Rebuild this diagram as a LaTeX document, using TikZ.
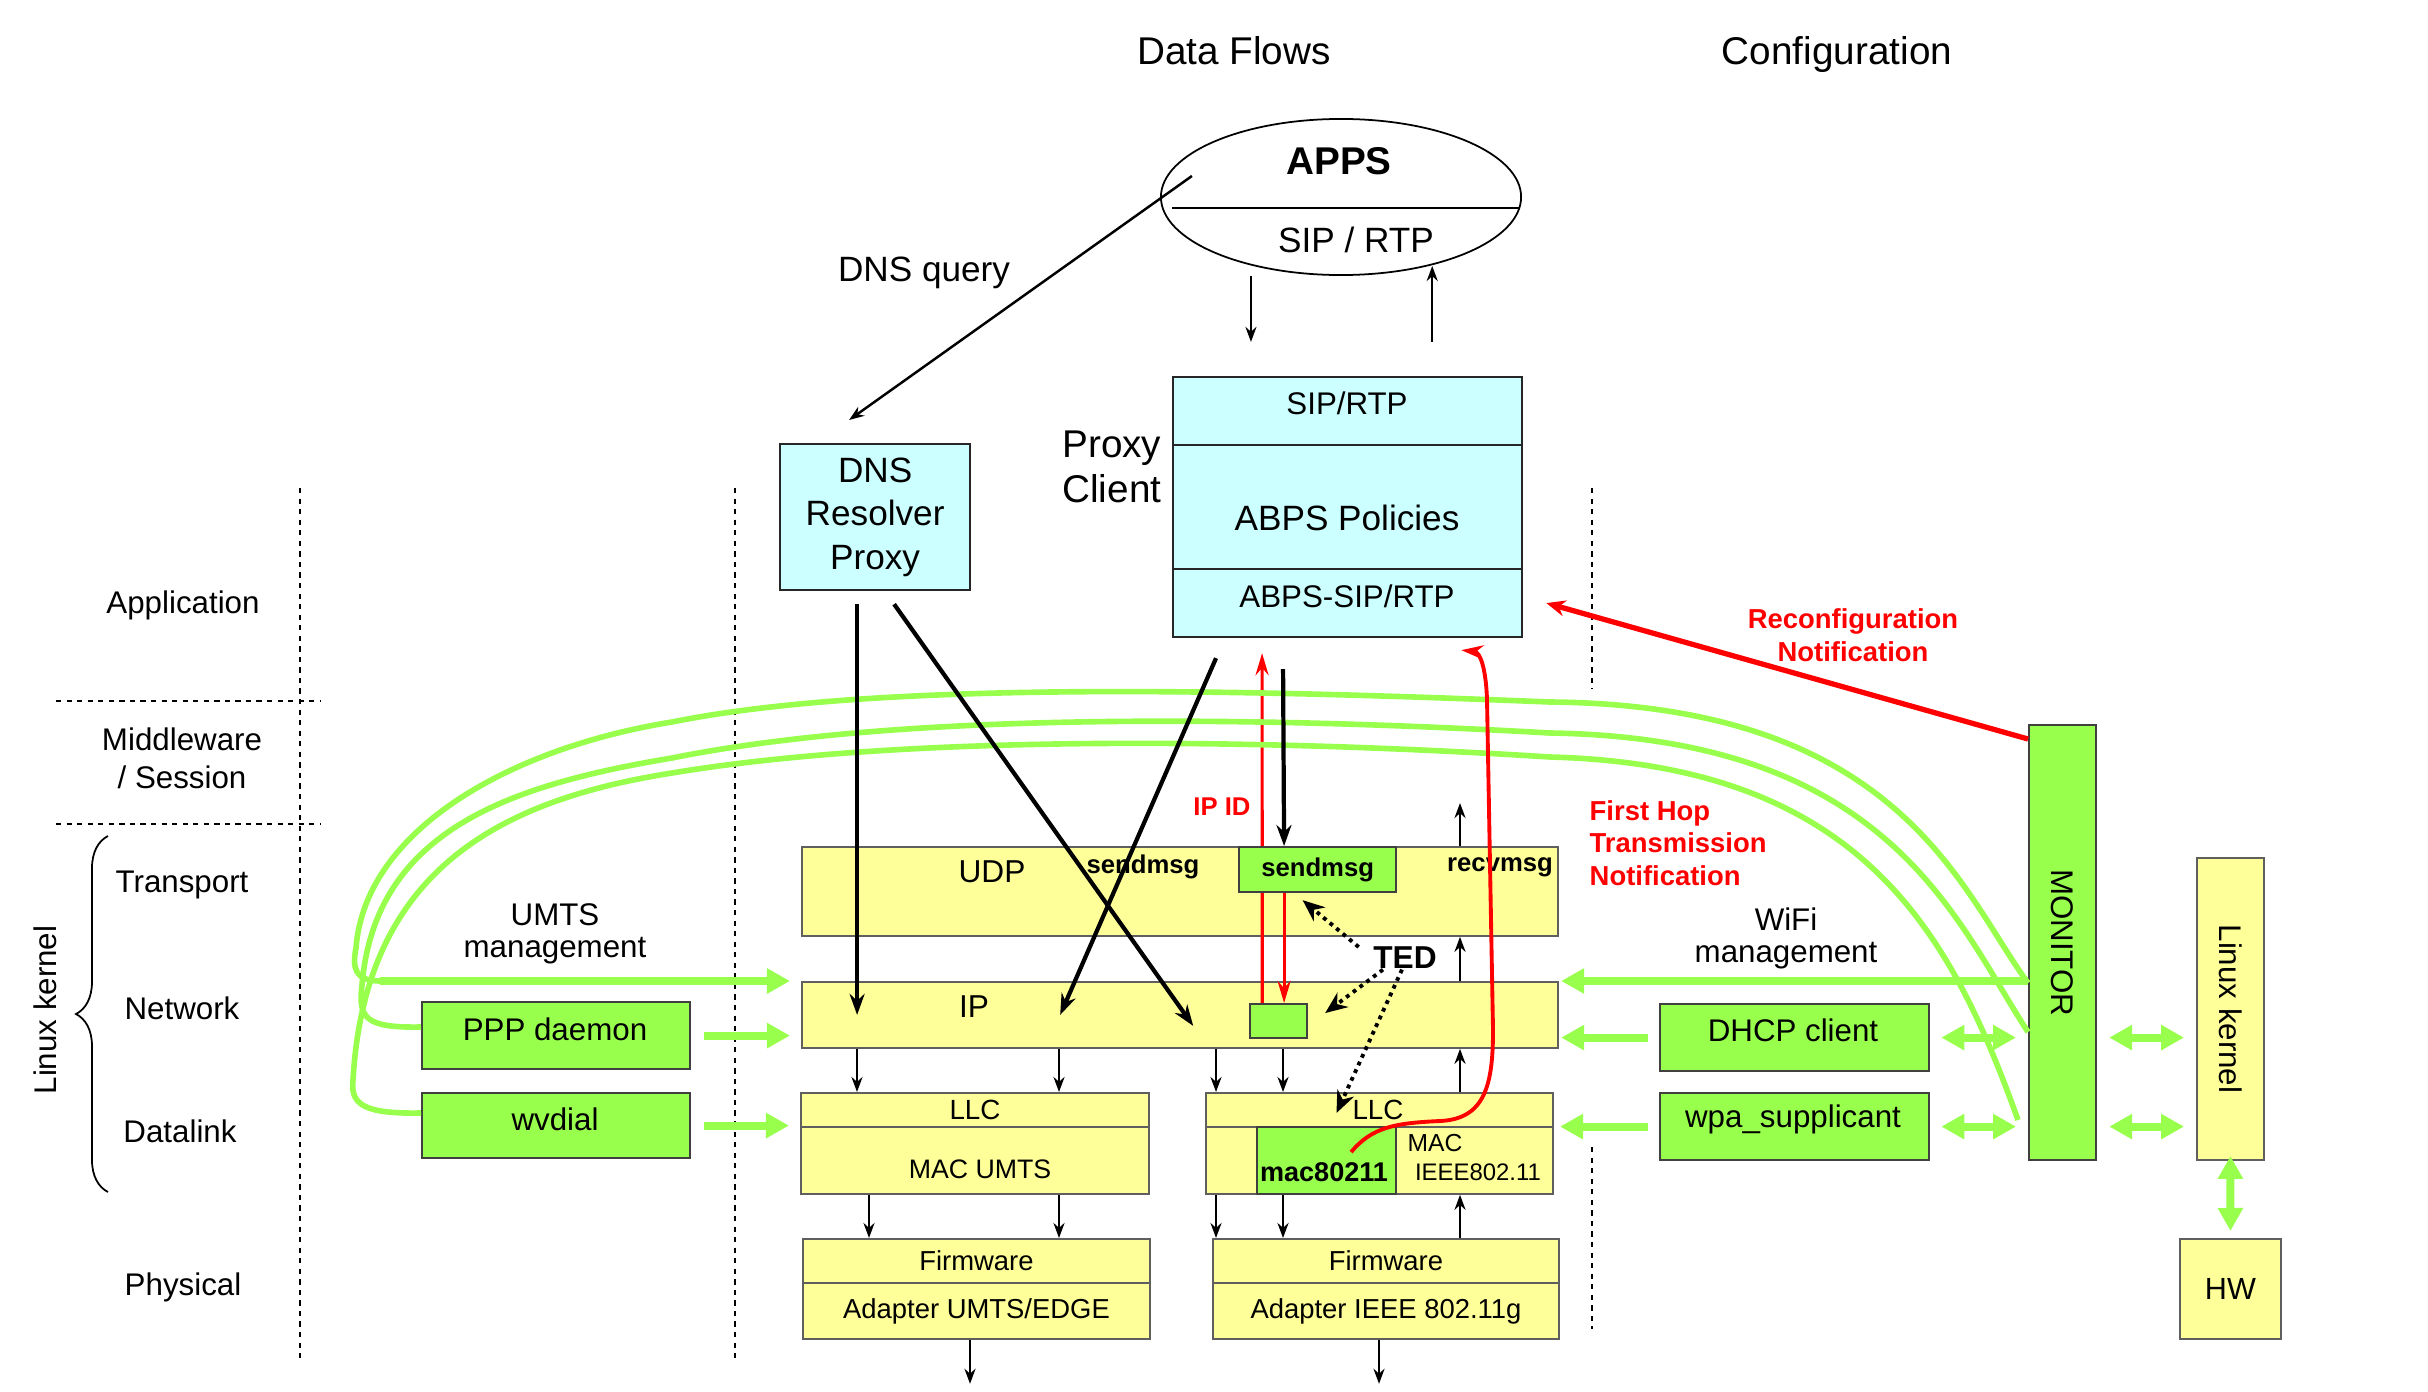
\documentclass[tikz,border=0pt]{standalone}
\usepackage{fontspec}
\setmainfont{Liberation Sans}
\usetikzlibrary{arrows.meta,shapes.geometric,decorations.pathreplacing}

\definecolor{yellowbg}{RGB}{255,255,153}
\definecolor{cyanbg}{RGB}{204,255,255}
\definecolor{greenbg}{RGB}{153,255,77}
\definecolor{boxline}{RGB}{95,95,95}
\newcommand{\fsz}[2]{\fontsize{#1}{#2}\selectfont}

\tikzset{
  ybox/.style={draw=boxline, fill=yellowbg, line width=0.5pt, inner sep=0pt, anchor=north west},
  cbox/.style={draw=black!85, fill=cyanbg, line width=0.6pt, inner sep=0pt, anchor=north west},
  gbox/.style={draw=black!75, fill=greenbg, line width=0.6pt, inner sep=0pt, anchor=north west},
  txt/.style={inner sep=0pt, font=\fsz{8.9}{10.7}},
  sm/.style={inner sep=0pt, font=\fsz{7.8}{9.4}},
  rtxt/.style={inner sep=0pt, text=red, font=\bfseries\fsz{7.8}{9.3}},
  sarr/.style={-{Stealth[length=1.5mm,width=1.1mm]}, line width=0.7pt},
  tarr/.style={-{Stealth[length=2.1mm,width=1.5mm]}, line width=1.2pt},
  garr/.style={draw=greenbg, line width=2.3pt, -{Triangle[length=2.3mm,width=2.4mm]}},
  gdbl/.style={draw=greenbg, line width=2.3pt, {Triangle[length=2.3mm,width=2.4mm]}-{Triangle[length=2.3mm,width=2.4mm]}},
  gline/.style={draw=greenbg, line width=1.6pt},
  rarr/.style={draw=red, line width=0.9pt, -{Stealth[length=2.2mm,width=1.3mm]}},
  rthick/.style={draw=red, line width=1.5pt, -{Stealth[length=1.9mm,width=1.6mm]}},
  ted/.style={line width=1.1pt, dash pattern=on 1.1pt off 1.3pt, -{Stealth[open,length=2.2mm,width=1.8mm]}},
  div/.style={dash pattern=on 1.5pt off 1.5pt, line width=0.5pt}
}

\begin{document}
\begin{tikzpicture}[x=0.01cm, y=-0.01cm]
  \useasboundingbox (0,0) rectangle (2428,1391);

  % titles and layers
  \node[font=\fsz{11}{13}, anchor=base] (tflow) at (1234,65) {Data Flows};
  \node[font=\fsz{11}{13}, anchor=base] (tconf) at (1837,65) {Configuration};
  \node[txt] (lapp) at (183,605) {Application};
  \node[txt, align=center, font=\fsz{8.9}{10.8}] (lmid) at (182,758) {Middleware\\/ Session};
  \node[txt] (ltra) at (182,885) {Transport};
  \node[txt] (lnet) at (182,1008) {Network};
  \node[txt] (ldat) at (180,1131) {Datalink};
  \node[txt] (lphy) at (183,1287) {Physical};
  \node[txt, rotate=90] (lkern) at (45,1010) {Linux kernel};
  \draw[decorate, decoration={brace, amplitude=0.32cm}, line width=0.5pt] (108,1192) -- (108,836);
  \draw[div] (300,488) -- (300,1360);
  \draw[div] (735,488) -- (735,1360);
  \draw[div] (1592,488) -- (1592,689);
  \draw[div] (1592,1147) -- (1592,1329);
  \draw[div] (56,701) -- (321,701);
  \draw[div] (56,824) -- (321,824);

  % applications
  \node[draw, ellipse, line width=0.5pt, minimum width=3.6cm, minimum height=1.56cm] (apps) at (1341,197) {};
  \draw[line width=0.5pt] (1172,208) -- (1520,208);
  \node[font=\bfseries\fsz{11}{13}] (appst) at (1339,161) {APPS};
  \node[font=\fsz{10}{12}] (appsip) at (1356,240) {SIP / RTP};
  \node[font=\fsz{10}{12}] (dnsq) at (924,273) {DNS query};

  \node[cbox, minimum width=1.90cm, minimum height=1.46cm, align=center, font=\fsz{10}{12.4}] (dns) at (779,443) {DNS\\Resolver\\Proxy};
  \node[cbox, minimum width=3.49cm, minimum height=0.68cm] (psip) at (1172,376) {};
  \node[cbox, minimum width=3.49cm, minimum height=1.24cm] (ppol) at (1172,444) {};
  \node[cbox, minimum width=3.49cm, minimum height=0.68cm] (pabps) at (1172,568) {};
  \node[inner sep=0pt, font=\fsz{8.9}{10}, anchor=base] (psipt) at (1347,414) {SIP/RTP};
  \node[inner sep=0pt, font=\fsz{10}{12}, anchor=base] (ppolt) at (1347,530) {ABPS Policies};
  \node[inner sep=0pt, font=\fsz{8.9}{10}, anchor=base] (pabpst) at (1347,607) {ABPS-SIP/RTP};
  \node[inner sep=0pt, font=\fsz{11}{13}, align=right, anchor=east] (proxyl) at (1162,467) {Proxy\\Client};

  \draw[sarr] ([xshift=-0.9cm]apps.south) -- ++(0,66);
  \draw[sarr] ([shift={(0.845cm,0.34cm)}]psip.north) -- ++(0,-76);
  \draw[sarr] ([shift={(-1.49cm,0.21cm)}]apps.center) -- ([shift={(-0.26cm,0.23cm)}]dns.north);

  % stack
  \node[ybox, minimum width=7.56cm, minimum height=0.89cm] (udp) at (801,846) {};
  \node[ybox, minimum width=7.56cm, minimum height=0.66cm] (ip) at (801,981) {};
  \node[ybox, minimum width=3.48cm, minimum height=0.34cm, font=\fsz{7.9}{9}] (llcu) at (800,1092) {LLC};
  \node[ybox, minimum width=3.48cm, minimum height=0.67cm] (macu) at (800,1126) {};
  \node[ybox, minimum width=3.47cm, minimum height=0.34cm] (llcw) at (1205,1092) {};
  \node[ybox, minimum width=3.47cm, minimum height=0.67cm] (macw) at (1205,1126) {};
  \node[ybox, minimum width=3.47cm, minimum height=0.44cm, font=\fsz{7.8}{9}] (fwu) at (802,1238) {Firmware};
  \node[ybox, minimum width=3.47cm, minimum height=0.56cm, font=\fsz{7.8}{9}] (adu) at (802,1282) {Adapter UMTS/EDGE};
  \node[ybox, minimum width=3.46cm, minimum height=0.44cm, font=\fsz{7.8}{9}] (fww) at (1212,1238) {Firmware};
  \node[ybox, minimum width=3.46cm, minimum height=0.56cm, font=\fsz{7.8}{9}] (adw) at (1212,1282) {Adapter IEEE 802.11g};
  \node[ybox, minimum width=0.67cm, minimum height=3.02cm] (lk) at (2196,857) {};
  \node[ybox, minimum width=1.01cm, minimum height=1.00cm, font=\fsz{8.7}{10}] (hw) at (2179,1238) {HW};

  % IP ID lines under the green boxes
  \draw[rarr] ([xshift=4.61cm]ip.west) -- ([shift={(0.9cm,-0.15cm)}]pabps.south west);

  \node[gbox, minimum width=1.57cm, minimum height=0.45cm, font=\bfseries\fsz{7.3}{9}] (sendb) at (1238,846) {sendmsg};
  \node[gbox, minimum width=0.57cm, minimum height=0.34cm] (ipidb) at (1249,1003) {};
  \node[gbox, minimum width=1.39cm, minimum height=0.67cm] (m80211) at (1256,1126) {};
  \node[gbox, minimum width=2.68cm, minimum height=0.67cm] (ppp) at (421,1001) {};
  \node[gbox, minimum width=2.68cm, minimum height=0.65cm] (wvd) at (421,1092) {};
  \node[gbox, minimum width=2.69cm, minimum height=0.67cm] (dhcp) at (1659,1003) {};
  \node[gbox, minimum width=2.69cm, minimum height=0.67cm] (wpa) at (1659,1092) {};
  \node[gbox, minimum width=0.67cm, minimum height=4.35cm] (mon) at (2028,724) {};
  \node[txt] (pppt) at (555,1029) {PPP daemon};
  \node[txt] (wvdt) at (555,1119) {wvdial};
  \node[txt] (dhcpt) at (1793,1030) {DHCP client};
  \node[txt] (wpat) at (1793,1119) {wpa\_supplicant};

  % texts in the stack
  \node[txt, font=\fsz{9}{10}] (udpt) at (992,872) {UDP};
  \node[sm, font=\bfseries\fsz{7.3}{9}] (sendl) at (1143,867) {sendmsg};
  \node[sm, font=\bfseries\fsz{7.3}{9}] (recvl) at (1500,867) {recvmsg};
  \node[txt, font=\fsz{9}{10}] (ipt) at (974,1007) {IP};
  \node[sm, font=\fsz{7.6}{9}] (macut) at (980,1169) {MAC UMTS};
  \node[sm, font=\fsz{7.9}{9}] (llcwt) at (1378,1110) {LLC};
  \node[sm, font=\fsz{7}{8}] (macwt) at (1435,1143) {MAC};
  \node[sm, font=\fsz{6.8}{8}] (ieeet) at (1478,1172) {IEEE802.11};
  \node[sm, font=\bfseries\fsz{7.7}{9}] (m80211t) at (1324,1172) {mac80211};
  \node[txt, rotate=-90] (mont) at (mon.center) {MONITOR};
  \node[txt, rotate=-90] (lkt) at (lk.center) {Linux kernel};
  \node[font=\bfseries\fsz{9}{10}, inner sep=0pt] (tedl) at (1405,958) {TED};
  \node[rtxt, font=\bfseries\fsz{7.3}{9}] (ipidl) at (1222,807) {IP ID};
  \node[rtxt, align=center] (reconf) at (1853,635) {Reconfiguration\\Notification};
  \node[rtxt, align=left, anchor=west] (fhop) at (1589,843) {First Hop\\Transmission\\Notification};
  \node[txt, align=center, font=\fsz{8.9}{9.1}] (umtsl) at (555,934) {UMTS\\management};
  \node[txt, align=center, font=\fsz{8.9}{9.1}] (wifil) at (1786,938) {WiFi\\management};

  % management curves
  \coordinate (umts) at (380,981);
  \draw[gline] (umts) .. controls (355,981) and (352,968) .. (356,948)
    .. controls (365,830) and (510,748) .. (672,722)
    .. controls (880,680) and (1250,690) .. (1550,702)
    .. controls (1900,705) and (1960,890) .. (mon.west |- 0,983);
  \draw[gline] (ppp.west |- 0,1027) .. controls (365,1028) and (358,1018) .. (362,985)
    .. controls (375,830) and (510,785) .. (672,758)
    .. controls (900,712) and (1250,716) .. (1550,733)
    .. controls (1890,738) and (1955,920) .. (mon.west |- 0,1032);
  \draw[gline] (wvd.west |- 0,1113) .. controls (365,1114) and (350,1105) .. (353,1080)
    .. controls (365,870) and (500,800) .. (672,773)
    .. controls (900,735) and (1250,738) .. (1550,757)
    .. controls (1860,765) and (1950,930) .. ([xshift=-0.1cm]mon.west |- 0,1120);

  % management arrows
  \draw[garr] (umts) -- ([xshift=-0.11cm]ip.north west);
  \draw[garr] ([xshift=0.13cm]ppp.east) -- ([xshift=-0.11cm]ip.west |- ppp.east);
  \draw[garr] ([xshift=0.13cm]wvd.east) -- ([xshift=-0.11cm]llcu.west |- wvd.east);
  \draw[garr] (mon.west |- ip.north) -- ([xshift=0.02cm]ip.north east);
  \draw[garr] ([xshift=-0.11cm]dhcp.west) -- ([xshift=0.02cm]ip.east |- dhcp.west);
  \draw[garr] ([xshift=-0.11cm]wpa.west) -- ([xshift=0.06cm]llcw.east |- wpa.west);
  \draw[gdbl] ([xshift=0.11cm]dhcp.east) -- ([xshift=-0.12cm]mon.west |- dhcp.east);
  \draw[gdbl] ([xshift=0.11cm]wpa.east) -- ([xshift=-0.12cm]mon.west |- wpa.east);
  \draw[gdbl] ([xshift=0.12cm]mon.east |- dhcp.east) -- ([xshift=-0.12cm]lk.west |- dhcp.east);
  \draw[gdbl] ([xshift=0.12cm]mon.east |- wpa.east) -- ([xshift=-0.12cm]lk.west |- wpa.east);
  \draw[gdbl] ([yshift=0.05cm]lk.south) -- ([yshift=0.07cm]hw.north);

  % data flows
  \draw[tarr] ([shift={(-0.18cm,-0.13cm)}]dns.south) -- ([xshift=-0.18cm]dns.south |- ip.west);
  \draw[tarr] ([shift={(0.19cm,-0.13cm)}]dns.south) -- ([shift={(3.92cm,-0.11cm)}]ip.west);
  \draw[tarr] ([shift={(0.44cm,-0.2cm)}]pabps.south west) -- ([xshift=2.59cm]ip.west);
  \draw[tarr] ([shift={(1.11cm,-0.31cm)}]pabps.south west) -- ([xshift=-0.335cm]sendb.north);
  \draw[rarr] ([xshift=-0.335cm]sendb.south) -- ([xshift=-0.335cm]sendb.south |- ipidb.north);

  \foreach \x in {857,1059} \draw[sarr] (\x,0 |- ip.south) -- (\x,0 |- llcu.north);
  \foreach \x in {869,1059} \draw[sarr] (\x,0 |- macu.south) -- (\x,0 |- fwu.north);
  \foreach \x in {1216,1283} {
    \draw[sarr] (\x,0 |- ip.south) -- (\x,0 |- llcw.north);
    \draw[sarr] (\x,0 |- macw.south) -- (\x,0 |- fww.north);
  }
  \draw[sarr] (1460,0 |- llcw.north) -- (1460,0 |- ip.south);
  \draw[sarr] (1460,0 |- fww.north) -- (1460,0 |- macw.south);
  \draw[sarr] (1460,0 |- ip.north) -- (1460,0 |- udp.south);
  \draw[sarr] (1460,0 |- udp.north) -- ++(0,-43);
  \draw[sarr] (970,0 |- adu.south) -- ++(0,44);
  \draw[sarr] (1379,0 |- adw.south) -- ++(0,44);

  % TED
  \draw[ted] ([shift={(-0.14cm,0.11cm)}]tedl.west) -- ([shift={(-0.15cm,-0.07cm)}]sendb.south);
  \draw[ted] ([xshift=-0.22cm]tedl.south) -- ([shift={(0.17cm,0.08cm)}]ipidb.east);
  \draw[ted] ([xshift=-0.03cm]tedl.south) -- ([shift={(-0.43cm,-0.21cm)}]llcw.north);

  % notifications
  \draw[red, line width=1.1pt, -{Stealth[length=2.2mm,width=1.4mm]}] ([shift={(0.245cm,0.085cm)}]m80211.center)
    .. controls (1372,1127) and (1395,1123) .. (1440,1121)
    .. controls (1485,1119) and (1493,1085) .. (1493,1030) -- (1487,700)
    .. controls (1486,668) and (1480,652) .. ([shift={(-0.62cm,-0.12cm)}]pabps.south east);
  \draw[rthick] ([yshift=-0.15cm]mon.north west) -- ([xshift=0.23cm]pabps.east);
\end{tikzpicture}
\end{document}
